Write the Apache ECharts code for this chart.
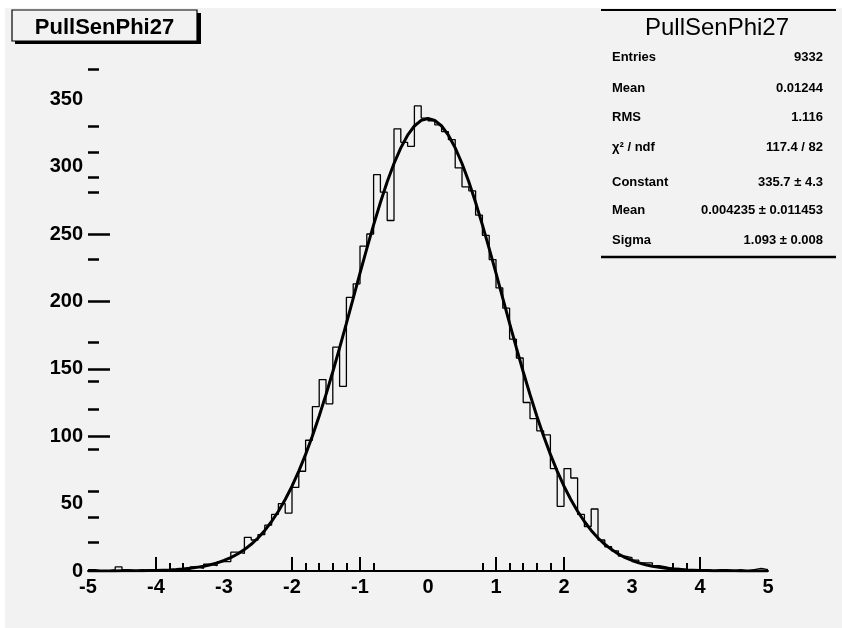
<!DOCTYPE html>
<html><head><meta charset="utf-8">
<script src="https://cdn.jsdelivr.net/npm/echarts@6/dist/echarts.min.js"></script>
<style>html,body{margin:0;padding:0;background:#fff;}#c{position:absolute;left:5px;top:8px;width:837px;height:620px;}</style>
</head><body><div id="c"></div><script>
// ---- data ----
const binEdges = [-5.0,-4.9,-4.8,-4.7,-4.6,-4.5,-4.4,-4.3,-4.2,-4.1,-4.0,-3.9,-3.8,-3.7,-3.6,-3.5,-3.4,-3.3,-3.2,-3.1,-3.0,-2.9,-2.8,-2.7,-2.6,-2.5,-2.4,-2.3,-2.2,-2.1,-2.0,-1.9,-1.8,-1.7,-1.6,-1.5,-1.4,-1.3,-1.2,-1.1,-1.0,-0.9,-0.8,-0.7,-0.6,-0.5,-0.4,-0.3,-0.2,-0.1,0.0,0.1,0.2,0.3,0.4,0.5,0.6,0.7,0.8,0.9,1.0,1.1,1.2,1.3,1.4,1.5,1.6,1.7,1.8,1.9,2.0,2.1,2.2,2.3,2.4,2.5,2.6,2.7,2.8,2.9,3.0,3.1,3.2,3.3,3.4,3.5,3.6,3.7,3.8,3.9,4.0,4.1,4.2,4.3,4.4,4.5,4.6,4.7,4.8,4.9,5.0];
const binCounts = [1,0,0,1,3,1,0,1,0,1, 0,1,1,2,1,3,2,5,4,7, 7,14,13,25,23,27,34,42,50,43, 62,74,97,122,142,124,166,137,203,213, 241,250,294,281,260,328,318,315,345,336,
  334,331,326,320,299,285,282,264,249,231, 210,195,172,158,125,113,104,101,76,48, 76,69,42,33,46,23,18,15,11,10, 8,6,6,4,3,2,2,1,1,1, 1,0,1,1,0,1,0,1,2,1];
const fitX = binEdges;
const fitY = [0,0,0,0,0,0.1,0.1,0.1,0.2,0.3,0.4,0.6,0.8,1.1,1.5,2.0,2.7,3.5,4.6,6.0,7.8,9.9,12.6,15.9,19.8,24.5,30.1,36.7,44.3,53.0,62.9,74.1,86.5,100.1,115.0,130.9,147.8,165.5,183.7,202.3,220.9,239.2,256.8,273.4,288.7,302.3,313.9,323.3,330.1,334.3,
  335.7,
  334.3,330.1,323.3,313.9,302.3,288.7,273.4,256.8,239.2,220.9,202.3,183.7,165.5,147.8,130.9,115.0,100.1,86.5,74.1,62.9,53.0,44.3,36.7,30.1,24.5,19.8,15.9,12.6,9.9,7.8,6.0,4.6,3.5,2.7,2.0,1.5,1.1,0.8,0.6,0.4,0.3,0.2,0.1,0.1,0.1,0,0,0,0,0];
const xLongTicks = [-4,-2,-1,1,2,4];
const xShortTicks = [-3.8,-3.6,-1.8,-1.6,-1.4,-1.2,-0.8,0.8,1.2,1.4,1.6,1.8,3.6,3.8];
const yLongTicks = [100,150,200,250];
const yShortTicks = [21,40,59.5,90,120,140.5,170,231,281,292,311,330,372];
const histTitle = 'PullSenPhi27';
const statLabels = ['Entries','Mean','RMS','χ² / ndf','Constant','Mean','Sigma'];
const statValues = ['9332','0.01244','1.116','117.4 / 82','335.7 ± 4.3','0.004235 ± 0.011453','1.093 ± 0.008'];

// ---- build ----
const histData = binCounts.map((c,i)=>[binEdges[i],c]);
histData.push([binEdges[binEdges.length-1], binCounts[binCounts.length-1]]);
const fitData = fitX.map((x,i)=>[x,fitY[i]]);

const FONT = "'Liberation Sans', Arial, Helvetica, sans-serif";
const statRowY = [49,80,109,139,174,202,232];
const graphics = [
  {type:'rect', shape:{x:10,y:5,width:186,height:31}, style:{fill:'#000'}, z:10},
  {type:'rect', shape:{x:7,y:2,width:185,height:31}, style:{fill:'#f2f2f2',stroke:'#000',lineWidth:1.2}, z:11},
  {type:'text', x:99.5, y:20, style:{text:histTitle, font:'bold 22px '+FONT, fill:'#000', textAlign:'center', textVerticalAlign:'middle'}, z:12},
  {type:'line', shape:{x1:596,y1:2,x2:831,y2:2}, style:{stroke:'#000',lineWidth:2}, z:10},
  {type:'line', shape:{x1:596,y1:249,x2:831,y2:249}, style:{stroke:'#000',lineWidth:2.5}, z:10},
  {type:'text', x:712, y:20, style:{text:histTitle, font:'24px '+FONT, fill:'#000', textAlign:'center', textVerticalAlign:'middle'}, z:12}
];
statLabels.forEach((l,i)=>{
  graphics.push({type:'text', x:607, y:statRowY[i], style:{text:l, font:'bold 13px '+FONT, fill:'#000', textAlign:'left', textVerticalAlign:'middle'}, z:12});
  graphics.push({type:'text', x:818, y:statRowY[i], style:{text:statValues[i], font:'bold 13px '+FONT, fill:'#000', textAlign:'right', textVerticalAlign:'middle'}, z:12});
});

const chart = echarts.init(document.getElementById('c'), null, {renderer:'canvas'});
chart.setOption({
  backgroundColor:'#f2f2f2',
  animation:false,
  grid:{left:83, right:74, top:44, bottom:57, containLabel:false},
  xAxis:[
    {type:'value', min:-5, max:5, interval:1, position:'bottom',
     axisLine:{show:true, onZero:false, lineStyle:{color:'#000', width:2}},
     axisTick:{show:true, inside:true, length:14, customValues:xLongTicks, lineStyle:{color:'#000', width:2}},
     axisLabel:{show:true, margin:6, color:'#000', fontSize:20, fontWeight:'bold', fontFamily:FONT},
     splitLine:{show:false}},
    {type:'value', min:-5, max:5, interval:1, position:'bottom', offset:0,
     axisLine:{show:false, onZero:false},
     axisTick:{show:true, inside:true, length:8, customValues:xShortTicks, lineStyle:{color:'#000', width:2}},
     axisLabel:{show:false}, splitLine:{show:false}}
  ],
  yAxis:[
    {type:'value', min:0, max:385, interval:50, position:'left',
     axisLine:{show:false, onZero:false},
     axisTick:{show:true, inside:true, length:22, customValues:yLongTicks, lineStyle:{color:'#000', width:2.5}},
     axisLabel:{show:true, margin:5, color:'#000', fontSize:20, fontWeight:'bold', fontFamily:FONT, showMaxLabel:false},
     splitLine:{show:false}},
    {type:'value', min:0, max:385, interval:50, position:'left', offset:0,
     axisLine:{show:false, onZero:false},
     axisTick:{show:true, inside:true, length:11, customValues:yShortTicks, lineStyle:{color:'#000', width:2.5}},
     axisLabel:{show:false}, splitLine:{show:false}}
  ],
  series:[
    {type:'line', name:'hist', xAxisIndex:0, yAxisIndex:0, data:histData, step:'end', showSymbol:false, symbol:'none',
     lineStyle:{color:'#000', width:1.3}, z:3},
    {type:'line', name:'fit', xAxisIndex:0, yAxisIndex:0, data:fitData, smooth:false, showSymbol:false, symbol:'none',
     lineStyle:{color:'#000', width:3}, z:4}
  ],
  graphic:graphics
});
</script></body></html>
